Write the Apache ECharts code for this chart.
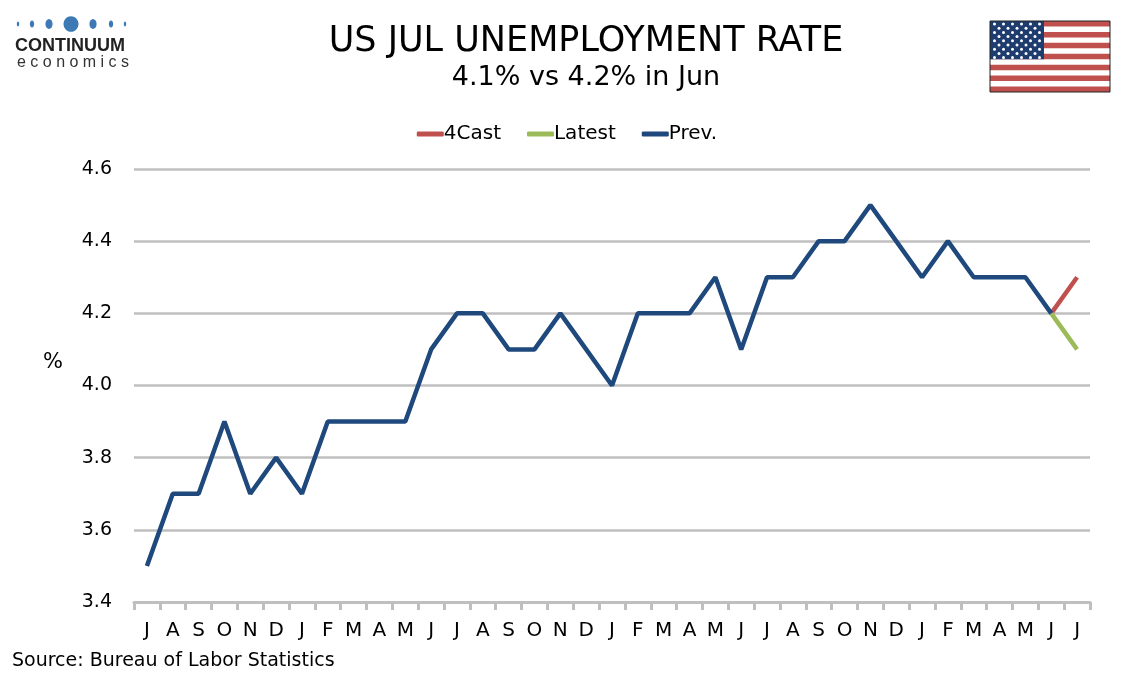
<!DOCTYPE html>
<html><head><meta charset="utf-8">
<script src="https://cdn.jsdelivr.net/npm/echarts@6/dist/echarts.min.js"></script>
<style>html,body{margin:0;padding:0;background:#fff}#c{width:1134px;height:680px}</style>
</head><body><div id="c"></div>
<script>
const months = ["J","A","S","O","N","D","J","F","M","A","M","J","J","A","S","O","N","D","J","F","M","A","M","J","J","A","S","O","N","D","J","F","M","A","M","J","J"];
const prev = [3.5,3.7,3.7,3.9,3.7,3.8,3.7,3.9,3.9,3.9,3.9,4.1,4.2,4.2,4.1,4.1,4.2,4.1,4.0,4.2,4.2,4.2,4.3,4.1,4.3,4.3,4.4,4.4,4.5,4.4,4.3,4.4,4.3,4.3,4.3,4.2,null];
const forecast = [null,null,null,null,null,null,null,null,null,null,null,null,null,null,null,null,null,null,null,null,null,null,null,null,null,null,null,null,null,null,null,null,null,null,null,4.2,4.3];
const latest = [null,null,null,null,null,null,null,null,null,null,null,null,null,null,null,null,null,null,null,null,null,null,null,null,null,null,null,null,null,null,null,null,null,null,null,4.2,4.1];
const yTicks = {min:3.4, max:4.6, interval:0.2};

const F = "'DejaVu Sans', Verdana, sans-serif";
const L = "'Liberation Sans', Arial, sans-serif";
const graphics = [];
// logo dots
const dots = [[18,1.2,2.5],[32,2.2,3.5],[49,3.6,5],[71,7.5,7.8],[93,3.6,5],[111,2.2,3.5],[125,1.2,2.5]];
dots.forEach(d=>graphics.push({type:'ellipse',shape:{cx:d[0],cy:24,rx:d[1],ry:d[2]},style:{fill:'#3d7ab5'}}));
graphics.push({type:'text',left:15,top:37,style:{text:'CONTINUUM',font:'bold 18px '+L,fill:'#222'}});
graphics.push({type:'text',left:17,top:55,style:{text:'e c o n o m i c s',font:'16px '+L,fill:'#333'}});
// flag
const fx=990, fy=21, fw=120, fh=71, sh=fh/13;
graphics.push({type:'rect',shape:{x:fx,y:fy,width:fw,height:fh},style:{fill:'#fff'}});
for(let i=0;i<13;i+=2){graphics.push({type:'rect',shape:{x:fx,y:fy+i*sh,width:fw,height:sh},style:{fill:'#c0504d'}});}
graphics.push({type:'rect',shape:{x:fx,y:fy,width:54,height:sh*7},style:{fill:'#1f3c6e'}});
for(let r=0;r<9;r++){const n=r%2===0?6:5;for(let c=0;c<n;c++){const x=fx+4.5+(r%2?4.5:0)+c*9;const y=fy+3+r*4.2;graphics.push({type:'circle',shape:{cx:x,cy:y,r:1.5},style:{fill:'#fff'}});}}
graphics.push({type:'rect',shape:{x:fx,y:fy,width:fw,height:fh},style:{fill:'none',stroke:'#222',lineWidth:1}});
graphics.push({type:'text',left:12,top:652,style:{text:'Source: Bureau of Labor Statistics',font:'19px '+F,fill:'#000'}});
graphics.push({type:'text',left:43,top:352,style:{text:'%',font:'21px '+F,fill:'#000'}});

const chart = echarts.init(document.getElementById('c'));
chart.setOption({
  animation:false,
  title:{text:'US JUL UNEMPLOYMENT RATE',subtext:'4.1% vs 4.2% in Jun',left:581,textAlign:'center',top:19,
    textStyle:{fontFamily:F,fontSize:35,fontWeight:'normal',color:'#000'},
    subtextStyle:{fontFamily:F,fontSize:27,color:'#000'},itemGap:5},
  legend:{top:119,left:'center',itemWidth:27,itemHeight:5,itemGap:26,
    textStyle:{fontFamily:F,fontSize:20,color:'#000',padding:[0,0,0,-5]},
    data:[{name:'4Cast',icon:'roundRect'},{name:'Latest',icon:'roundRect'},{name:'Prev.',icon:'roundRect'}]},
  graphic:graphics,
  grid:{left:134,right:44,top:169,bottom:78},
  xAxis:{type:'category',data:months,boundaryGap:true,
    axisLine:{lineStyle:{color:'#bfbfbf',width:3}},
    axisTick:{show:true,length:8,lineStyle:{color:'#bfbfbf',width:3}},
    axisLabel:{fontFamily:F,fontSize:20,color:'#000',margin:19,interval:0}},
  yAxis:{type:'value',min:yTicks.min,max:yTicks.max,interval:yTicks.interval,
    axisLine:{show:false},axisTick:{show:false},
    splitLine:{lineStyle:{color:'#bfbfbf',width:2.5}},
    axisLabel:{fontFamily:F,fontSize:19,color:'#000',margin:22,formatter:v=>v.toFixed(1)}},
  series:[
    {name:'4Cast',type:'line',data:forecast,showSymbol:false,symbol:'none',lineStyle:{color:'#c0504d',width:4.5},itemStyle:{color:'#c0504d'}},
    {name:'Latest',type:'line',data:latest,showSymbol:false,symbol:'none',lineStyle:{color:'#9bbb59',width:4.5},itemStyle:{color:'#9bbb59'}},
    {name:'Prev.',type:'line',data:prev,showSymbol:false,symbol:'none',lineStyle:{color:'#1f497d',width:4.5},itemStyle:{color:'#1f497d'}}
  ]
});
</script></body></html>
